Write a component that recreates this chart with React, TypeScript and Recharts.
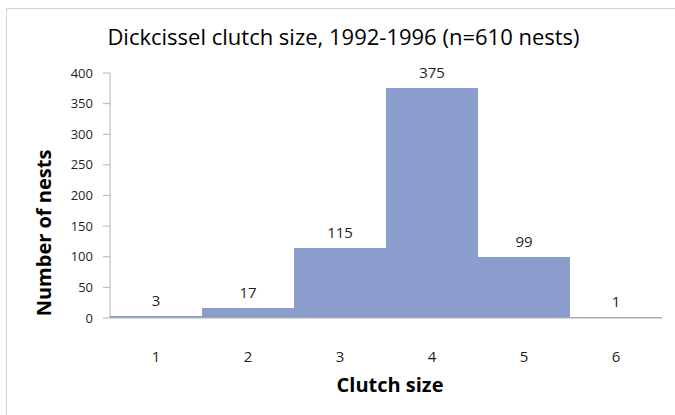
import React from 'react';
import { BarChart, Bar, XAxis, YAxis, LabelList, Label } from 'recharts';

const clutchSizes = ['1', '2', '3', '4', '5', '6'];
const nestCounts = [3, 17, 115, 375, 99, 1];
const yTicks = [0, 50, 100, 150, 200, 250, 300, 350, 400];

const chartData = clutchSizes.map((size, i) => ({ size, nests: nestCounts[i] }));

const fontFamily = '"Open Sans", "Noto Sans", sans-serif';
const textColor = '#1f1f1f';
const yTickStyle = { fontFamily, fontSize: 13, fill: textColor };
const xTickStyle = { fontFamily, fontSize: 15, fill: textColor };
const dataLabelStyle = { fontFamily, fontSize: 15, fill: textColor };
const axisTitleStyle = { fontFamily, fontSize: 20, fontWeight: 700, fill: '#000' };

const barColor = '#8b9dcd';
const axisColor = '#b3b3b3';

export default function App() {
  return (
    <div style={{ position: 'absolute', left: 0, top: 0, width: 675, height: 415, background: '#fff', overflow: 'hidden' }}>
      <div
        style={{
          position: 'absolute',
          left: 6,
          top: 8,
          width: 680,
          height: 420,
          border: '1px solid #d4d4d4',
          boxSizing: 'border-box',
        }}
      />
      <div
        style={{
          position: 'absolute',
          left: 0,
          top: 25,
          width: 687,
          textAlign: 'center',
          fontFamily,
          fontSize: 22,
          lineHeight: '22px',
          color: '#000',
        }}
      >
        Dickcissel clutch size, 1992-1996 (n=610 nests)
      </div>
      <BarChart
        width={675}
        height={415}
        data={chartData}
        margin={{ top: 73, right: 13, left: 0, bottom: 0 }}
        barCategoryGap={0}
        style={{ position: 'absolute', left: 0, top: 0 }}
      >
        <XAxis
          dataKey="size"
          height={97}
          tickLine={false}
          tickSize={0}
          tickMargin={33}
          stroke={axisColor}
          tick={xTickStyle}
        >
          <Label
            content={() => (
              <text x={390} y={392} textAnchor="middle" style={axisTitleStyle}>
                Clutch size
              </text>
            )}
          />
        </XAxis>
        <YAxis
          width={110}
          domain={[0, 400]}
          ticks={yTicks}
          interval={0}
          tickSize={7}
          tickMargin={10}
          stroke={axisColor}
          tick={yTickStyle}
        >
          <Label
            content={() => (
              <text
                x={43}
                y={233}
                transform="rotate(-90 43 233)"
                textAnchor="middle"
                dominantBaseline="central"
                style={axisTitleStyle}
              >
                Number of nests
              </text>
            )}
          />
        </YAxis>
        <Bar dataKey="nests" fill={barColor} shapeRendering="crispEdges" isAnimationActive={false}>
          <LabelList dataKey="nests" position="top" offset={10} style={dataLabelStyle} />
        </Bar>
      </BarChart>
    </div>
  );
}
